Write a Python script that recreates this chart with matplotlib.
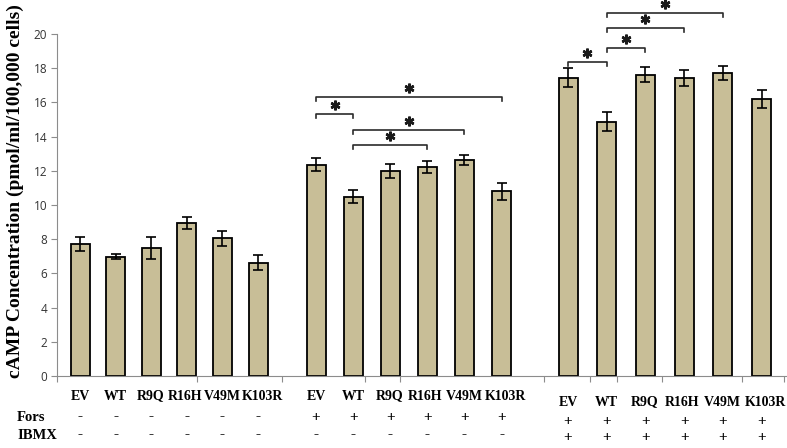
import matplotlib
matplotlib.use("Agg")
import matplotlib.pyplot as plt
from matplotlib.transforms import blended_transform_factory

# ---------------- data ----------------
categories = ["EV", "WT", "R9Q", "R16H", "V49M", "K103R"]
basal_vals = [7.72, 6.97, 7.50, 8.96, 8.06, 6.63]
basal_err = [0.42, 0.14, 0.65, 0.35, 0.43, 0.46]
fors_vals = [12.36, 10.49, 12.00, 12.20, 12.62, 10.81]
fors_err = [0.40, 0.40, 0.42, 0.35, 0.28, 0.50]
ibmx_vals = [17.44, 14.88, 17.63, 17.44, 17.72, 16.20]
ibmx_err = [0.55, 0.58, 0.42, 0.47, 0.42, 0.54]
fors_signs = [["-"] * 6, ["+"] * 6, ["+"] * 6]
ibmx_signs = [["-"] * 6, ["-"] * 6, ["+"] * 6]
# significance comparisons: (group, i, j, bracket height)
sig_pairs = [
    (1, 0, 5, 16.29), (1, 0, 1, 15.33), (1, 1, 4, 14.41), (1, 1, 3, 13.51),
    (2, 0, 1, 18.36), (2, 1, 2, 19.18), (2, 1, 3, 20.33), (2, 1, 4, 21.23),
]
yticks = [0, 2, 4, 6, 8, 10, 12, 14, 16, 18, 20]
ylabel = "cAMP Concentration (pmol/ml/100,000 cells)"

# ---------------- layout ----------------
W, H = 787, 448
fig = plt.figure(figsize=(W / 100, H / 100), dpi=100)
ax_left, ax_right, ax_bottom, ax_top = 57, 787, 376, 34
ax = fig.add_axes([ax_left / W, 1 - ax_bottom / H,
                   (ax_right - ax_left) / W, (ax_bottom - ax_top) / H])
ax.set_xlim(ax_left, ax_right)
ax.set_ylim(0, 20)

group_start = [80, 316, 568]
group_step = [35.6, 37.1, 38.7]
bar_w = 19
bar_color = "#C8BE97"

groups = [(basal_vals, basal_err), (fors_vals, fors_err), (ibmx_vals, ibmx_err)]
positions = []
for g, (vals, errs) in enumerate(groups):
    xs = [group_start[g] + i * group_step[g] for i in range(len(vals))]
    positions.append(xs)
    ax.bar(xs, vals, width=bar_w, color=bar_color, edgecolor="black",
           linewidth=1.3, zorder=2)
    ax.errorbar(xs, vals, yerr=errs, fmt="none", ecolor="black",
                elinewidth=1.2, capsize=3.5, capthick=1.2, zorder=3)

# significance brackets
px_per_unit = (ax_bottom - ax_top) / 20.0
drop = 4 / px_per_unit
star_off = 9 / px_per_unit
for g, i, j, h in sig_pairs:
    x1, x2 = positions[g][i], positions[g][j]
    ax.plot([x1, x1, x2, x2], [h - drop, h, h, h - drop], color="#2b2b2b",
            lw=1.2, clip_on=False, zorder=4)
    ax.plot([(x1 + x2) / 2], [h + star_off], linestyle="none",
            marker=(6, 2, 0), markersize=7, markeredgewidth=1.8,
            color="#1a1a1a", clip_on=False, zorder=5)

# axes styling
for s in ["top", "right"]:
    ax.spines[s].set_visible(False)
ax.spines["left"].set_color("#8c8c8c")
ax.spines["bottom"].set_color("#8c8c8c")
ax.set_yticks(yticks)
ax.set_yticklabels([str(t) for t in yticks], family="Open Sans",
                   fontsize=8.5, color="#333333")
ax.tick_params(axis="y", length=4, color="#8c8c8c", pad=3)
ax.set_xticks([57, 197, 282, 365, 400, 544, 590, 617, 662, 742, 784])
ax.set_xticklabels([])
ax.tick_params(axis="x", length=4, color="#8c8c8c")

fig.text(15 / W, 1 - 191 / H, ylabel, rotation=90, ha="center", va="center",
         family="Liberation Serif", fontweight="bold", fontsize=14)

# labels below
tr = blended_transform_factory(ax.transData, fig.transFigure)
cat_y = [396, 396, 402]
fors_y = [417, 417, 421]
ibmx_y = [435, 435, 437]
cat_shift = [0, 0, -1, -2, 0, 4]
for g in range(3):
    for i, c in enumerate(categories):
        x = positions[g][i]
        ax.text(x + cat_shift[i], 1 - cat_y[g] / H, c, transform=tr,
                ha="center", va="center", family="Liberation Serif",
                fontweight="bold", fontsize=10)
        ax.text(x, 1 - fors_y[g] / H, fors_signs[g][i], transform=tr,
                ha="center", va="center", family="Liberation Serif",
                fontweight="bold", fontsize=11)
        ax.text(x, 1 - ibmx_y[g] / H, ibmx_signs[g][i], transform=tr,
                ha="center", va="center", family="Liberation Serif",
                fontweight="bold", fontsize=11)
fig.text(17 / W, 1 - 417 / H, "Fors", ha="left", va="center",
         family="Liberation Serif", fontweight="bold", fontsize=10.5)
fig.text(17 / W, 1 - 435 / H, "IBMX", ha="left", va="center",
         family="Liberation Serif", fontweight="bold", fontsize=10.5)

fig.savefig("out.png", dpi=100)
